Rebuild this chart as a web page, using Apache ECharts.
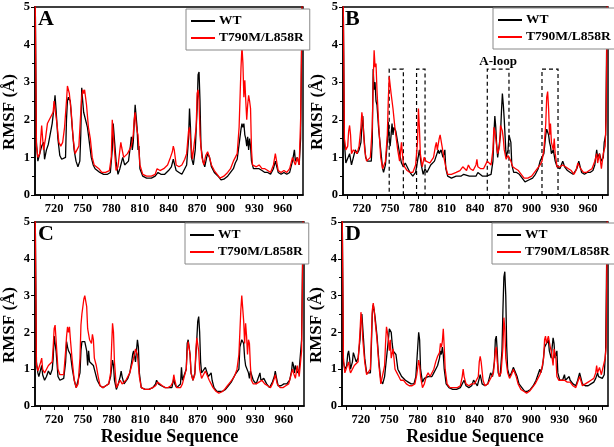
<!DOCTYPE html>
<html><head><meta charset="utf-8">
<script src="https://cdn.jsdelivr.net/npm/echarts@6/dist/echarts.min.js"></script>
<style>html,body{margin:0;padding:0;background:#fff}#c{width:614px;height:447px}</style>
</head><body><div id="c"></div>
<script>
// Residue ticks
const xLabels = [720, 750, 780, 810, 840, 870, 900, 930, 960];
const xTicks = [705, 720, 735, 750, 765, 780, 795, 810, 825, 840, 855, 870, 885, 900, 915, 930, 945, 960, 975];
const seriesNames = ['WT', 'T790M/L858R'];
const panelLetters = ['A', 'B', 'C', 'D'];

// Panel A  [residue, RMSF]
const A_WT = [[700,6],[701.5,1.4],[703,0.9],[705,0.9],[707,1.3],[709,1.4],[710,0.95],[712,1.2],[714,1.35],[716,1.4],[718,1.9],[720,2.35],[721,2.65],[722,2.3],[724,1.5],[726,1.05],[728,0.95],[730,0.9],[732,1.0],[733,2.0],[734,2.5],[735,2.6],[737,2.5],[739,1.8],[741,1.2],[743,0.9],[745,0.75],[747,0.9],[748,1.6],[749,2.85],[750,2.5],[751,2.2],[753,2.2],[755,1.8],[757,1.4],[759,1.0],[761,0.8],[763,0.7],[765,0.65],[768,0.6],[772,0.55],[776,0.55],[779,0.6],[781,1.2],[782,1.9],[783,1.9],[785,0.9],[787,0.55],[789,0.7],[791,0.9],[792,1.0],[794,0.8],[796,0.8],[798,0.9],[800,1.3],[801,1.55],[802,1.2],[803,1.4],[805,2.4],[806,2.1],[807,1.8],[808,1.2],[809,1.3],[810,0.7],[813,0.5],[817,0.45],[822,0.45],[826,0.5],[829,0.6],[832,0.55],[836,0.55],[840,0.65],[843,0.75],[845,0.95],[846,0.85],[848,0.65],[851,0.6],[854,0.55],[857,0.7],[859,0.8],[861,1.5],[862,2.3],[863,1.8],[864,1.0],[866,0.8],[868,1.2],[870,2.3],[871,3.2],[872,3.27],[873,2.5],[874,1.3],[876,0.9],[878,0.75],[880,1.0],[881,1.1],[883,1.0],[885,0.75],[888,0.6],[892,0.5],[895,0.4],[898,0.42],[902,0.5],[905,0.6],[908,0.7],[910,0.85],[912,0.95],[914,1.0],[916,1.75],[917,1.9],[918,1.8],[919,1.9],[920,1.6],[921,1.5],[922,1.3],[923,1.55],[924,1.2],[925,1.5],[926,1.3],[927,0.9],[929,0.7],[932,0.7],[935,0.7],[938,0.65],[941,0.6],[944,0.6],[947,0.55],[950,0.7],[952,0.9],[953,0.85],[955,0.6],[958,0.55],[961,0.6],[964,0.55],[967,0.6],[970,0.9],[972,1.2],[973,0.9],[975,1.0],[977,0.8],[978.5,1.5],[980.5,6]];
const A_MUT = [[700,6],[701.5,1.3],[703,1.0],[705,1.1],[706,1.5],[707,1.85],[708,1.5],[709,1.2],[711,1.5],[713,1.9],[715,2.0],[717,2.1],[719,2.2],[720,2.5],[721,2.3],[723,1.9],[725,1.4],[727,1.3],[729,1.4],[731,1.8],[733,2.5],[734,2.9],[736,2.7],[738,2.2],[740,1.5],[742,1.1],[744,1.05],[746,1.3],[748,2.2],[749,2.6],[750,2.8],[751,2.7],[752,2.8],[754,2.4],[756,1.8],[758,1.5],[760,1.0],[762,0.8],[764,0.8],[767,0.7],[770,0.6],[774,0.6],[778,0.65],[780,1.0],[781,2.0],[782,2.0],[783,1.3],[785,0.65],[787,0.75],[789,1.2],[790,1.4],[791,1.25],[793,1.0],[795,1.0],[797,1.1],[799,1.2],[801,1.3],[803,1.6],[804,2.0],[805,2.2],[806,1.9],[807,1.7],[808,1.6],[809,1.2],[810,0.8],[813,0.55],[817,0.5],[822,0.5],[826,0.55],[828,0.7],[831,0.65],[835,0.7],[839,0.8],[842,1.0],[844,1.15],[845,1.3],[846,1.2],[848,0.8],[851,0.75],[854,0.8],[857,0.95],[859,1.1],[861,1.7],[862,1.8],[863,1.5],[865,0.95],[867,1.0],[869,1.8],[870,2.7],[871,2.8],[872,2.5],[873,1.6],[875,1.0],[877,0.8],[879,1.05],[881,1.15],[883,1.0],[885,0.8],[888,0.65],[891,0.55],[894,0.45],[898,0.5],[902,0.6],[905,0.7],[908,0.9],[910,1.0],[912,1.1],[914,1.8],[915,2.6],[916,3.4],[917,3.95],[918,3.5],[919,2.6],[920,3.05],[921,2.5],[922,2.0],[923,2.4],[924,2.65],[925,2.5],[926,2.3],[927,1.2],[928,0.8],[930,0.8],[932,0.75],[935,0.8],[938,0.7],[941,0.7],[944,0.65],[947,0.6],[950,0.8],[952,1.1],[953,0.95],[955,0.65],[958,0.6],[961,0.65],[964,0.6],[967,0.7],[970,1.0],[972,1.05],[973,0.8],[975,1.0],[977,0.8],[978.5,2.0],[980.5,6]];

// Panel B
const B_WT = [[700,6],[701.5,1.4],[703,0.85],[705,0.9],[707,1.1],[708,1.1],[709,0.8],[711,1.0],[713,1.2],[715,1.1],[717,1.2],[719,1.4],[720,1.8],[721,2.1],[722,1.6],[724,1.0],[726,0.9],[728,0.85],[730,0.9],[731,1.4],[732,3.35],[733,2.8],[734,3.0],[735,2.5],[736,2.4],[738,1.7],[740,1.2],[742,0.7],[743,0.6],[745,0.8],[747,1.4],[748,1.95],[749,1.5],[750,1.3],[751,1.6],[752,1.9],[753,1.6],[754,1.8],[756,1.7],[758,1.4],[760,1.1],[762,0.85],[764,0.75],[766,0.85],[768,0.8],[771,0.6],[774,0.5],[777,0.6],[779,0.9],[781,1.2],[782,1.15],[783,0.8],[785,0.55],[787,0.7],[789,0.6],[791,0.7],[793,0.8],[795,0.75],[797,0.9],[799,0.9],[801,1.2],[802,1.1],[804,1.2],[806,1.0],[808,1.2],[809,0.7],[811,0.5],[815,0.45],[820,0.5],[825,0.5],[828,0.55],[830,0.55],[834,0.5],[838,0.5],[841,0.5],[843,0.6],[845,0.55],[848,0.5],[850,0.5],[852,0.5],[854,0.45],[857,0.55],[859,0.9],[860,1.6],[861,2.1],[862,1.8],[863,1.3],[864,1.0],[866,1.0],[867,1.6],[868,2.2],[869,2.7],[870,2.4],[871,2.0],[872,1.5],[873,1.0],[875,1.2],[876,1.6],[877,1.65],[878,1.4],[879,0.8],[881,0.6],[884,0.6],[887,0.55],[890,0.45],[893,0.35],[897,0.4],[901,0.45],[904,0.55],[907,0.7],[909,0.9],[911,1.0],[913,1.1],[915,1.6],[916,1.75],[917,1.8],[918,1.6],[919,1.4],[920,1.3],[921,1.1],[923,1.2],[925,0.9],[927,0.75],[930,0.7],[933,0.9],[935,0.75],[938,0.65],[941,0.6],[944,0.55],[946,0.5],[948,0.7],[950,0.9],[951,0.8],[953,0.6],[956,0.55],[959,0.6],[962,0.6],[965,0.65],[967,0.8],[969,1.2],[970,1.0],[972,1.1],[974,0.9],[976,1.0],[977,1.4],[978.5,1.6],[980.5,6]];
const B_MUT = [[700,6],[701.5,1.5],[703,1.2],[705,1.3],[706,1.7],[707,1.85],[708,1.6],[709,1.1],[711,1.2],[713,1.15],[715,1.1],[717,1.3],[719,1.8],[720,2.2],[721,2.0],[723,1.2],[725,0.9],[727,0.9],[729,1.0],[731,1.8],[732,3.0],[733,3.85],[734,3.4],[735,3.5],[736,2.8],[738,1.8],[740,1.0],[742,0.7],[743,0.65],[745,0.9],[747,1.6],[748,2.5],[749,3.15],[750,3.1],[751,2.7],[753,2.3],[755,1.8],[757,1.4],[758,1.2],[760,0.9],[762,1.4],[763,1.35],[764,0.8],[766,0.75],[768,0.65],[771,0.6],[774,0.6],[777,0.8],[779,1.4],[780,2.3],[781,1.8],[782,1.1],[784,0.75],[786,1.0],[788,0.9],[790,0.9],[792,0.85],[794,0.9],[796,1.0],[798,1.3],[799,1.4],[800,1.2],[802,1.5],[803,1.6],[805,1.3],[807,1.0],[809,0.75],[811,0.55],[815,0.55],[820,0.6],[824,0.65],[827,0.75],[829,0.75],[831,0.65],[833,0.8],[835,0.7],[838,0.65],[841,0.8],[842,0.95],[843,0.75],[846,0.7],[849,0.7],[851,0.75],[853,0.9],[855,0.9],[857,0.8],[859,1.2],[860,1.8],[861,1.7],[862,1.5],[864,1.1],[866,1.3],[867,1.85],[868,1.85],[869,1.7],[870,1.5],[871,1.2],[873,0.95],[875,1.05],[876,1.05],[878,0.9],[880,0.75],[883,0.7],[886,0.65],[889,0.55],[892,0.45],[896,0.45],[900,0.5],[903,0.6],[906,0.7],[909,0.8],[911,0.9],[913,1.2],[915,1.9],[916,2.6],[917,2.75],[918,2.3],[919,1.6],[920,1.9],[921,1.4],[923,1.2],[924,1.5],[925,1.1],[927,0.75],[930,0.75],[933,0.8],[936,0.75],[939,0.7],[942,0.65],[945,0.55],[947,0.65],[949,0.85],[950,0.9],[952,0.7],[955,0.6],[958,0.6],[961,0.65],[964,0.7],[967,0.9],[969,1.1],[970,0.85],[972,1.1],[974,0.7],[976,1.1],[978,1.3],[979,2.0],[980.5,6]];

// Panel C
const C_WT = [[700,6],[701.5,1.2],[703,0.9],[704,0.8],[706,1.0],[707,1.1],[708,0.85],[710,0.7],[712,0.8],[714,0.95],[716,0.85],[718,1.0],[719,1.3],[720,1.9],[721,1.95],[722,1.5],[724,0.8],[726,0.7],[728,0.75],[730,0.75],[732,1.2],[733,1.75],[734,1.6],[735,1.5],[737,1.4],[739,1.0],[741,0.7],[743,0.5],[745,0.55],[747,0.9],[748,1.5],[749,1.75],[750,1.8],[752,1.75],[753,1.8],[754,1.5],[755,1.1],[756,1.5],[757,1.2],[759,1.15],[761,1.1],[763,0.9],[765,0.7],[768,0.55],[771,0.5],[774,0.55],[777,0.6],[779,0.8],[781,1.25],[782,1.1],[783,0.7],[785,0.45],[787,0.6],[789,0.8],[790,0.95],[791,0.8],[793,0.6],[795,0.6],[797,0.75],[799,0.9],[801,1.2],[802,1.4],[803,1.5],[804,1.55],[805,1.2],[806,1.5],[807,1.8],[808,1.6],[809,0.9],[811,0.5],[815,0.45],[819,0.45],[823,0.5],[826,0.6],[827,0.7],[829,0.6],[832,0.55],[836,0.5],[840,0.5],[843,0.5],[845,0.75],[846,0.6],[848,0.5],[850,0.45],[852,0.6],[853,1.05],[854,0.7],[856,0.65],[858,1.0],[859,1.7],[860,1.8],[861,1.75],[862,1.4],[863,0.9],[865,0.7],[867,0.9],[869,1.8],[870,2.3],[871,2.43],[872,2.0],[873,1.2],[874,0.9],[876,0.85],[878,1.05],[879,1.1],[880,1.05],[881,0.8],[883,0.85],[884,0.9],[885,0.7],[887,0.5],[890,0.4],[893,0.4],[896,0.4],[899,0.45],[902,0.55],[905,0.65],[907,0.75],[909,0.85],[911,0.8],[913,1.0],[914,1.6],[916,1.8],[917,1.85],[918,1.7],[919,1.3],[920,1.1],[921,1.05],[923,0.9],[924,0.75],[925,0.95],[926,1.0],[928,0.7],[931,0.6],[933,0.65],[935,0.9],[936,0.7],[939,0.75],[942,0.6],[945,0.5],[948,0.65],[950,0.8],[951,0.95],[952,0.8],[954,0.55],[957,0.55],[960,0.6],[963,0.6],[966,0.7],[968,0.95],[969,1.2],[970,1.1],[971,0.9],[972,1.1],[974,0.9],[976,1.0],[978.5,1.8],[980.5,6]];
const C_MUT = [[700,6],[701.5,1.1],[703,0.95],[705,1.0],[706,1.2],[707,1.3],[708,1.0],[710,0.9],[712,1.0],[714,1.1],[716,1.1],[718,1.2],[719,1.6],[720,2.1],[721,2.2],[722,1.8],[724,1.0],[726,0.85],[728,0.8],[730,0.85],[732,1.5],[733,1.9],[734,2.15],[735,2.0],[736,2.15],[737,1.8],[739,1.2],[741,0.7],[743,0.5],[745,0.6],[747,1.3],[748,2.2],[749,2.5],[750,2.5],[751,2.9],[752,3.0],[753,3.0],[754,2.7],[755,2.1],[757,1.8],[759,1.7],[760,1.95],[761,1.8],[762,1.3],[764,1.1],[766,0.8],[768,0.55],[771,0.5],[774,0.55],[777,0.6],[779,0.9],[780,1.6],[781,2.25],[782,2.0],[783,1.2],[785,0.5],[787,0.6],[789,0.7],[791,0.6],[793,0.6],[795,0.7],[797,0.75],[799,0.9],[801,1.1],[803,1.3],[805,1.55],[806,1.5],[807,1.4],[808,1.1],[809,0.8],[811,0.5],[815,0.45],[819,0.45],[823,0.5],[826,0.55],[828,0.65],[830,0.6],[833,0.55],[836,0.5],[839,0.5],[842,0.55],[844,0.65],[845,0.85],[846,0.7],[848,0.5],[850,0.45],[852,0.5],[854,0.6],[856,0.65],[858,1.0],[859,1.5],[860,1.75],[861,1.7],[862,1.4],[863,0.9],[865,0.7],[867,0.85],[868,1.5],[869,1.85],[870,1.9],[871,1.5],[872,1.0],[874,0.75],[876,0.8],[878,0.95],[879,1.0],[880,0.95],[882,0.7],[884,0.6],[886,0.5],[889,0.4],[892,0.35],[895,0.38],[898,0.45],[901,0.55],[904,0.65],[907,0.75],[909,0.85],[911,1.0],[913,1.4],[914,2.0],[915,2.6],[916,3.0],[917,2.95],[918,2.3],[919,1.7],[920,2.25],[921,1.9],[922,1.4],[923,1.8],[924,1.7],[925,1.1],[926,0.7],[928,0.6],[931,0.6],[934,0.65],[937,0.7],[940,0.6],[943,0.55],[946,0.5],[948,0.6],[950,0.75],[951,0.85],[953,0.6],[956,0.5],[959,0.5],[962,0.55],[965,0.6],[967,0.8],[969,1.0],[970,0.9],[972,0.75],[974,1.1],[976,0.8],[978.5,1.5],[980.5,6]];

// Panel D
const D_WT = [[700,6],[701.5,1.2],[703,1.0],[705,1.1],[706,1.4],[707,1.5],[708,1.3],[709,1.0],[711,1.2],[712,1.45],[713,1.4],[715,1.2],[717,1.3],[719,1.8],[720,2.3],[721,2.5],[722,2.1],[724,1.3],[726,0.9],[728,0.85],[730,0.9],[731,1.6],[732,2.5],[733,2.75],[734,2.6],[735,2.4],[737,1.9],[739,1.2],[741,0.7],[743,0.6],[745,0.8],[747,1.3],[749,1.8],[750,2.1],[751,2.15],[752,2.0],[753,1.7],[754,1.5],[755,1.55],[757,1.4],[759,1.0],[761,0.9],[763,0.8],[765,0.75],[767,0.7],[770,0.65],[773,0.6],[776,0.6],[778,0.8],[780,1.6],[781,2.0],[782,1.8],[783,1.0],[785,0.65],[787,0.75],[789,0.7],[791,0.8],[793,0.75],[795,0.8],[797,0.9],[799,1.0],[801,1.1],[803,1.3],[804,1.5],[805,1.4],[806,1.6],[807,1.4],[808,1.0],[810,0.6],[813,0.5],[817,0.45],[821,0.45],[825,0.5],[827,0.6],[829,0.7],[831,0.55],[834,0.5],[837,0.55],[839,0.7],[841,0.65],[843,0.55],[845,0.75],[846,0.85],[848,0.6],[851,0.55],[854,0.6],[856,0.8],[857,0.9],[859,0.8],[861,1.2],[862,1.8],[863,1.9],[864,1.5],[865,0.9],[867,0.8],[869,1.5],[870,2.6],[871,3.5],[872,3.65],[873,3.0],[874,1.6],[875,1.0],[877,0.8],[879,0.9],[881,1.05],[882,1.1],[883,1.0],[885,0.8],[887,0.6],[890,0.5],[893,0.4],[896,0.4],[899,0.45],[902,0.55],[905,0.7],[907,0.85],[909,1.0],[910,0.9],[912,1.1],[914,1.6],[916,1.7],[918,1.8],[919,1.5],[921,1.3],[922,1.6],[923,1.85],[924,1.7],[925,1.3],[926,1.4],[927,1.5],[928,0.9],[930,0.7],[933,0.7],[935,0.85],[936,0.7],[938,0.65],[940,0.8],[941,0.7],[944,0.6],[947,0.55],[949,0.7],[951,0.9],[952,0.85],[954,0.6],[957,0.55],[960,0.55],[963,0.6],[966,0.65],[968,0.75],[970,0.9],[971,0.8],[973,0.85],[975,0.75],[977,0.85],[978.5,1.5],[980.5,6]];
const D_MUT = [[700,6],[701.5,1.3],[703,0.9],[705,0.95],[707,1.2],[708,1.0],[709,0.9],[711,1.0],[713,1.1],[715,1.15],[717,1.2],[719,2.0],[720,2.55],[721,2.3],[722,1.8],[724,1.2],[726,0.85],[728,0.9],[730,1.0],[731,1.8],[732,2.6],[733,2.8],[734,2.6],[735,2.3],[737,1.8],[739,1.1],[741,0.6],[743,0.6],[745,1.1],[746,1.7],[747,2.15],[748,2.0],[749,1.8],[750,1.5],[751,1.8],[752,1.3],[754,1.55],[756,1.0],[758,0.9],[760,0.8],[762,0.7],[765,0.7],[768,0.6],[771,0.55],[774,0.55],[777,0.6],[779,0.85],[781,1.25],[782,1.1],[783,0.8],[785,0.5],[787,0.6],[789,0.8],[791,0.9],[793,0.8],[795,0.85],[797,1.0],[799,1.2],[801,1.35],[803,1.45],[804,1.7],[805,1.6],[806,1.75],[807,2.1],[808,1.6],[809,1.0],[811,0.6],[814,0.5],[818,0.5],[822,0.5],[825,0.55],[827,0.8],[828,1.0],[829,0.8],[831,0.6],[834,0.55],[837,0.6],[840,0.6],[842,0.65],[844,0.8],[845,1.2],[846,1.35],[847,1.2],[849,0.7],[851,0.55],[854,0.6],[856,0.7],[858,0.75],[860,0.9],[862,1.5],[863,1.6],[864,1.2],[866,0.8],[868,0.9],[870,1.6],[871,2.4],[872,2.1],[873,1.3],[875,0.9],[877,0.75],[879,0.85],[881,1.0],[882,1.0],[884,0.8],[886,0.6],[889,0.45],[892,0.4],[895,0.35],[898,0.4],[901,0.5],[904,0.6],[907,0.75],[909,0.85],[911,1.0],[913,1.3],[914,1.8],[915,1.9],[916,1.7],[918,1.9],[919,1.95],[920,1.6],[921,1.5],[922,1.3],[923,1.1],[924,1.55],[925,1.6],[926,1.3],[927,0.8],[929,0.7],[932,0.7],[935,0.7],[938,0.65],[941,0.65],[944,0.55],[947,0.5],[949,0.65],[951,0.8],[952,0.75],[954,0.55],[957,0.6],[960,0.65],[963,0.7],[966,0.75],[968,0.9],[969,1.1],[970,0.9],[972,1.05],[974,0.85],[976,0.9],[978,1.3],[979,1.6],[980.5,6]];

// Highlighted regions in panel B [start, end] and box height
const B_boxes = [[749, 764], [778, 787], [853, 876], [911, 928]];
const boxTop = 3.35;
const aLoopIndex = 2;

const panels = [[A_WT, A_MUT], [B_WT, B_MUT], [C_WT, C_MUT], [D_WT, D_MUT]];
const colors = ['#000000', '#ff0000'];
const FONT = 'Liberation Serif';

const gridsPos = [
  {left: 35, top: 7, width: 268, height: 188},
  {left: 343, top: 7, width: 265, height: 188},
  {left: 35, top: 222, width: 269, height: 188},
  {left: 342, top: 222, width: 266, height: 188}
];
const legendPos = [
  {left: 186, top: 9}, {left: 493, top: 8}, {left: 185, top: 223}, {left: 492, top: 223}
];

const grid = gridsPos.map(g => Object.assign({show: true, borderColor: '#000', borderWidth: 1.5, backgroundColor: 'transparent'}, g));
const xAxis = gridsPos.map((g, i) => ({
  type: 'value', gridIndex: i, min: 700, max: 981,
  name: i >= 2 ? 'Residue Sequence' : '', nameLocation: 'middle', nameGap: 22,
  nameTextStyle: {fontFamily: FONT, fontWeight: 'bold', fontSize: 18, color: '#000'},
  axisLine: {show: true, onZero: false, lineStyle: {color: '#000', width: 1.5}},
  axisTick: {show: true, customValues: xTicks, length: 4, lineStyle: {color: '#000', width: 1}},
  axisLabel: {customValues: xLabels, fontFamily: FONT, fontWeight: 'bold', fontSize: 12.5, color: '#000', margin: 7},
  splitLine: {show: false}
}));
const yAxis = gridsPos.map((g, i) => ({
  type: 'value', gridIndex: i, min: 0, max: 5, interval: 1,
  name: 'RMSF (Å)', nameLocation: 'middle', nameGap: 17, nameRotate: 90,
  nameTextStyle: {fontFamily: FONT, fontWeight: 'bold', fontSize: 17, color: '#000', padding: [0, 0, 0, -22]},
  axisLine: {show: true, lineStyle: {color: '#000', width: 1.5}},
  axisTick: {show: true, length: 4, lineStyle: {color: '#000'}},
  minorTick: {show: true, splitNumber: 2, length: 3, lineStyle: {color: '#000'}},
  axisLabel: {fontFamily: FONT, fontWeight: 'bold', fontSize: 12.5, color: '#000', margin: 5},
  splitLine: {show: false}
}));

const series = [];
panels.forEach((p, i) => {
  p.forEach((d, k) => {
    const s = {
      name: seriesNames[k], type: 'line', xAxisIndex: i, yAxisIndex: i, data: d,
      showSymbol: false, symbol: 'none', clip: true, animation: false,
      lineStyle: {color: colors[k], width: 1.3}, itemStyle: {color: colors[k]}
    };
    if (i === 1 && k === 1) {
      s.markArea = {
        silent: true,
        itemStyle: {color: 'rgba(0,0,0,0)', borderColor: '#000', borderWidth: 1.2, borderType: [4, 3]},
        data: B_boxes.map((b, j) => [
          {xAxis: b[0], yAxis: 0, label: {show: j === aLoopIndex, position: 'top', distance: 0, formatter: 'A-loop', fontFamily: FONT, fontWeight: 'bold', fontSize: 13, color: '#000'}},
          {xAxis: b[1], yAxis: boxTop}
        ])
      };
    }
    series.push(s);
  });
});

const legend = legendPos.map(l => ({
  left: l.left, top: l.top, orient: 'vertical', data: seriesNames,
  icon: 'rect', itemWidth: 24, itemHeight: 2, itemGap: 3,
  padding: [5, 6, 5, 5], borderColor: '#888', borderWidth: 1, backgroundColor: '#fff',
  selectedMode: false,
  textStyle: {fontFamily: FONT, fontWeight: 'bold', fontSize: 13.5, color: '#000', padding: [0, 0, 0, -1]}
}));

const letterPos = [[38, 8], [345, 8], [38, 223], [345, 223]];
const graphic = letterPos.map((p, i) => ({
  type: 'text', left: p[0], top: p[1], z: 100,
  style: {text: panelLetters[i], fontFamily: FONT, fontWeight: 'bold', fontSize: 22, fill: '#000'}
}));

const chart = echarts.init(document.getElementById('c'), null, {renderer: 'canvas'});
chart.setOption({animation: false, grid, xAxis, yAxis, series, legend, graphic});
</script></body></html>
